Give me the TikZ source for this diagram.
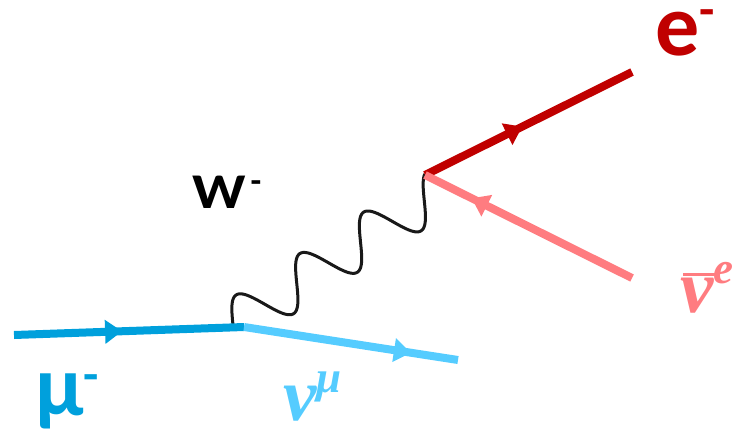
\documentclass[tikz,border=0pt]{standalone}
\usepackage{fontspec}
\setmainfont{Carlito}
\newfontfamily\nufont{Liberation Serif}
\usetikzlibrary{arrows.meta,decorations.markings}
\definecolor{fdMuon}{HTML}{00A0DC}
\definecolor{fdNuMu}{HTML}{55CCFF}
\definecolor{fdElec}{HTML}{C00000}
\definecolor{fdNuE}{HTML}{FF7C80}

\begin{document}
\begin{tikzpicture}[x=1pt, y=-1pt,
  fermion/.style={line width=8pt},
  midarrow/.style={postaction={decorate}, decoration={markings,
    mark=at position #1 with {\arrow{Triangle[length=17pt,width=23pt]}}}},
  wboson/.style={line width=3pt, black!90, line join=round}]
  \useasboundingbox (0,0) rectangle (742,429);
  % vertices and free ends
  \coordinate (muin) at (14,335);
  \coordinate (vlow) at (244,327);
  \coordinate (wlow) at (233,325);
  \coordinate (numuout) at (458,360);
  \coordinate (vtop) at (425,175);
  \coordinate (eout) at (632,72);
  \coordinate (nuein) at (632,278);
  % W propagator
  \draw[wboson, shift={(wlow)}] plot[domain=0:243, samples=160, smooth, variable=\s]
    ({0.839*\s - 12.81*sin(4.7368*\s)}, {-0.545*\s - 19.72*sin(4.7368*\s)});
  % fermion lines
  \draw[fermion, fdMuon, midarrow=0.47] (muin) -- (vlow);
  \draw[fermion, fdNuMu, midarrow=0.78] (vlow) -- (numuout);
  \draw[fermion, fdElec, midarrow=0.47] (vtop) -- (eout);
  \draw[fermion, fdNuE, midarrow=0.775] (nuein) -- (vtop);
  % labels
  \node[anchor=base west, inner sep=0, text=fdElec] (elabel) at (655,55)
    {\fontsize{88}{88}\selectfont\bfseries e\raisebox{29pt}{\fontsize{50}{50}\selectfont -}};
  \node[anchor=base west, inner sep=0] (wlabel) at (192,208)
    {\fontsize{50}{50}\selectfont\bfseries\scalebox{1.18}[1]{W}\hspace{5pt}\raisebox{16pt}{\fontsize{35}{35}\selectfont -}};
  \node[anchor=base west, inner sep=0, text=fdMuon] (mulabel) at (35,415)
    {\fontsize{86}{86}\selectfont\bfseries μ\raisebox{24pt}{\fontsize{50}{50}\selectfont -}};
  \node[anchor=base west, inner sep=0, text=fdNuMu] (numulabel) at (283,420)
    {\nufont\bfseries\itshape\fontsize{75}{75}\selectfont ν\raisebox{28pt}{\fontsize{45}{45}\selectfont μ}};
  \node[anchor=base west, inner sep=0, text=fdNuE] (nuelabel) at (680,312)
    {\nufont\bfseries\itshape\fontsize{75}{75}\selectfont
     \rlap{\hspace{3pt}\rule[36pt]{32pt}{3.5pt}}ν\raisebox{29pt}{\fontsize{45}{45}\selectfont e}};
\end{tikzpicture}
\end{document}
